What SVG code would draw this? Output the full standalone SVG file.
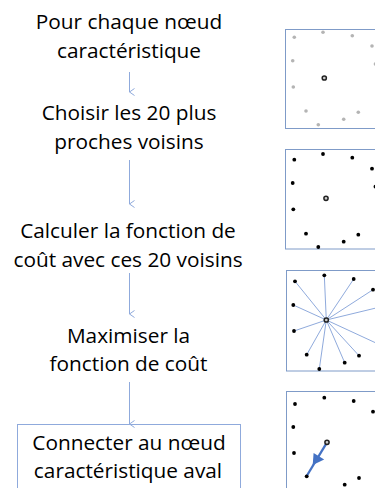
<svg xmlns="http://www.w3.org/2000/svg" width="375" height="488" viewBox="0 0 375 488">
<defs>
<style>
.t{font-family:"Open Sans","Liberation Sans",sans-serif;font-size:20.8px;fill:#000;text-anchor:middle}
.c{stroke:#8FAADC;stroke-width:1;fill:none}
.panel{fill:#fff;stroke:#7F9BC8;stroke-width:1}
.g{fill:#B4B4B4}
.k{fill:#000}
.ring{fill:#ccc;stroke:#222;stroke-width:1.5}
.ray{stroke:#8FAADC;stroke-width:1}
</style>
<marker id="ah" markerWidth="10" markerHeight="10" refX="5" refY="7" orient="auto" markerUnits="userSpaceOnUse" viewBox="0 0 10 10">
<path d="M1.5,2 L5,7 L8.5,2" fill="none" stroke="#8FAADC" stroke-width="1"/>
</marker>
</defs>
<rect width="375" height="488" fill="#fff"/>

<g id="step1">
<text class="t" x="129" y="28.5">Pour chaque nœud</text>
<text class="t" x="129" y="57.5">caractéristique</text>
</g>
<g id="step2">
<text class="t" x="129" y="120">Choisir les 20 plus</text>
<text class="t" x="129" y="149">proches voisins</text>
</g>
<g id="step3">
<text class="t" x="128" y="237.5">Calculer la fonction de</text>
<text class="t" x="128" y="266.5">coût avec ces 20 voisins</text>
</g>
<g id="step4">
<text class="t" x="128.5" y="342.5">Maximiser la</text>
<text class="t" x="128.5" y="371">fonction de coût</text>
</g>
<g id="step5">
<rect x="17.5" y="424.5" width="223" height="70" fill="#fff" stroke="#8FAADC" stroke-width="1"/>
<text class="t" x="129" y="449.5">Connecter au nœud</text>
<text class="t" x="128" y="477.5">caractéristique aval</text>
</g>

<g id="connectors">
<line class="c" x1="129.5" y1="72" x2="129.5" y2="92" marker-end="url(#ah)"/>
<line class="c" x1="129.5" y1="160" x2="129.5" y2="204" marker-end="url(#ah)"/>
<line class="c" x1="129.5" y1="273" x2="129.5" y2="314" marker-end="url(#ah)"/>
<line class="c" x1="129.5" y1="382" x2="129.5" y2="424" marker-end="url(#ah)"/>
</g>

<g id="panel1">
<rect class="panel" x="285.5" y="29.5" width="100" height="99"/>
<circle class="g" cx="294.3" cy="37.3" r="1.8"/>
<circle class="g" cx="323" cy="32.3" r="1.8"/>
<circle class="g" cx="352.3" cy="35.7" r="1.8"/>
<circle class="g" cx="372" cy="46" r="1.8"/>
<circle class="g" cx="292.7" cy="60.7" r="1.8"/>
<circle class="g" cx="375.5" cy="64" r="1.8"/>
<circle class="g" cx="293.3" cy="87" r="1.8"/>
<circle class="g" cx="306" cy="111" r="1.8"/>
<circle class="g" cx="358.3" cy="112.3" r="1.8"/>
<circle class="g" cx="343.7" cy="119.3" r="1.8"/>
<circle class="g" cx="318.3" cy="124.7" r="1.8"/>
<circle class="ring" cx="324.3" cy="78" r="2.1"/>
</g>

<g id="panel2">
<rect class="panel" x="285.5" y="149.5" width="100" height="99.5"/>
<circle class="k" cx="294.3" cy="159.7" r="1.9"/>
<circle class="k" cx="323" cy="154" r="1.9"/>
<circle class="k" cx="352.3" cy="157.7" r="1.9"/>
<circle class="k" cx="372" cy="168.7" r="1.9"/>
<circle class="k" cx="292.7" cy="183" r="1.9"/>
<circle class="k" cx="375.5" cy="186.7" r="1.9"/>
<circle class="k" cx="293.3" cy="209.3" r="1.9"/>
<circle class="k" cx="306" cy="233.7" r="1.9"/>
<circle class="k" cx="358.3" cy="234.7" r="1.9"/>
<circle class="k" cx="343.7" cy="241.7" r="1.9"/>
<circle class="k" cx="318.3" cy="247" r="1.9"/>
<circle class="ring" cx="326" cy="198.3" r="2.1"/>
</g>

<g id="panel3">
<rect class="panel" x="286.5" y="270.5" width="100" height="100.5"/>
<g class="ray">
<line x1="326.3" y1="320" x2="295" y2="281.3"/>
<line x1="326.3" y1="320" x2="324.3" y2="275.3"/>
<line x1="326.3" y1="320" x2="353.7" y2="279"/>
<line x1="326.3" y1="320" x2="373" y2="289.7"/>
<line x1="326.3" y1="320" x2="376" y2="308"/>
<line x1="326.3" y1="320" x2="293.3" y2="305"/>
<line x1="326.3" y1="320" x2="294" y2="331"/>
<line x1="326.3" y1="320" x2="306.7" y2="354.7"/>
<line x1="326.3" y1="320" x2="319.3" y2="369"/>
<line x1="326.3" y1="320" x2="344.7" y2="362.7"/>
<line x1="326.3" y1="320" x2="359" y2="355.7"/>
<line x1="326.3" y1="320" x2="376" y2="343"/>
</g>
<circle class="k" cx="295" cy="281.3" r="1.9"/>
<circle class="k" cx="324.3" cy="275.3" r="1.9"/>
<circle class="k" cx="353.7" cy="279" r="1.9"/>
<circle class="k" cx="373" cy="289.7" r="1.9"/>
<circle class="k" cx="293.3" cy="305" r="1.9"/>
<circle class="k" cx="294" cy="331" r="1.9"/>
<circle class="k" cx="306.7" cy="354.7" r="1.9"/>
<circle class="k" cx="359" cy="355.7" r="1.9"/>
<circle class="k" cx="344.7" cy="362.7" r="1.9"/>
<circle class="k" cx="319.3" cy="369" r="1.9"/>
<circle class="ring" cx="326.3" cy="320" r="2.1"/>
</g>

<g id="panel4">
<rect class="panel" x="286.5" y="391.5" width="100" height="110"/>
<circle class="k" cx="295" cy="404" r="1.9"/>
<circle class="k" cx="324.3" cy="397.7" r="1.9"/>
<circle class="k" cx="353.7" cy="401" r="1.9"/>
<circle class="k" cx="373" cy="411.7" r="1.9"/>
<circle class="k" cx="293.3" cy="427" r="1.9"/>
<circle class="k" cx="294" cy="453" r="1.9"/>
<circle class="k" cx="359" cy="478" r="1.9"/>
<circle class="k" cx="344.7" cy="484.7" r="1.9"/>
<line x1="327" y1="442.3" x2="306.7" y2="476" stroke="#4472C4" stroke-width="2.3"/>
<polygon points="312.7,465 313.6,453 324.2,459.5" fill="#4472C4"/>
<circle class="k" cx="306.7" cy="476.3" r="1.9"/>
<circle class="ring" cx="327" cy="442.3" r="2.1"/>
</g>
</svg>
